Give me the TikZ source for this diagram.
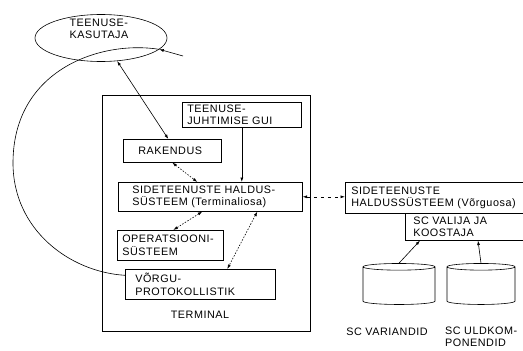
\documentclass[tikz,border=0pt]{standalone}
\usepackage{fontspec}
\setmainfont{Liberation Sans}[LetterSpace=5]
\usetikzlibrary{arrows.meta,shapes.geometric}

\begin{document}
\begin{tikzpicture}[x=1pt,y=-1pt,line width=0.6pt,
  font=\fontsize{10.8pt}{12.5pt}\selectfont,
  >={Latex[length=4.5pt,width=3pt]},
  box/.style={draw,anchor=north west,align=left,inner ysep=0pt},
  dots/.style={<->,dash pattern=on 1.5pt off 1.5pt},
  db/.style={draw,cylinder,shape border rotate=90,aspect=1,minimum width=72pt,minimum height=41pt}]
  \useasboundingbox (0,0) rectangle (523,351);
  % Kasutaja
  \node[draw,ellipse,minimum width=132pt,minimum height=47pt] (kasutaja) at (101,38) {};
  \node[align=left] (kasutajatekst) at (99,29) {TEENUSE-\\KASUTAJA};
  % Terminal
  \node[box,minimum width=208pt,minimum height=236pt] (terminal) at (102,95) {};
  \node (terminaltekst) at (200,315) {TERMINAL};
  \node[box,text width=109pt,inner xsep=5pt,minimum height=25pt] (gui) at (182,102) {TEENUSE-\\JUHTIMISE GUI};
  \node[box,text width=68pt,inner xsep=15pt,minimum height=23pt] (rakendus) at (123,139) {RAKENDUS};
  \node[box,text width=156pt,inner xsep=14pt,minimum height=29pt] (haldus) at (118,182) {SIDETEENUSTE HALDUS-\\SÜSTEEM (Terminaliosa)};
  \node[box,text width=96pt,inner xsep=5pt,minimum height=30pt] (os) at (117,230) {OPERATSIOONI-\\SÜSTEEM};
  \node[box,text width=130pt,inner xsep=10pt,minimum height=30pt] (vorgu) at (125,269) {VÕRGU-\\PROTOKOLLISTIK};
  % Vork
  \node[box,text width=166pt,inner xsep=6pt,minimum height=31pt] (haldusv) at (345,182) {SIDETEENUSTE\\HALDUSSÜSTEEM (Võrguosa)};
  \node[box,text width=102pt,inner xsep=8pt,minimum height=27pt] (valija) at (405,213) {SC VALIJA JA\\KOOSTAJA};
  \node[db] (variandid) at (399,286.5) {};
  \node[db,minimum width=68pt] (uldkomp) at (481,286.5) {};
  \node (variantekst) at (387,332) {SC VARIANDID};
  \node[anchor=north west,align=left,inner ysep=0pt,font=\fontsize{10.8pt}{11.5pt}\selectfont] (uldtekst) at (441.5,327) {SC ULDKOM-\\PONENDID};
  % Seosed
  \draw[<->] (kasutaja.-55) -- ([xshift=-4pt]rakendus.north);
  \draw[->] (gui.south) -- (gui.south |- haldus.north);
  \draw[dots] (rakendus.south) -- ([xshift=-13pt]haldus.north);
  \draw[dots] ([xshift=-8pt]haldus.south) -- ([xshift=3pt]os.north);
  \draw[dots] ([xshift=47pt]haldus.south) -- ([xshift=27pt]vorgu.north);
  \draw[<->,dash pattern=on 3pt off 4pt] (haldus.east) -- (haldus.east -| haldusv.west);
  \draw[->] (variandid.north) -- ([xshift=15pt]valija.south west);
  \draw[->] (uldkomp.north) -- ([xshift=73pt]valija.south west);
  % Silmus
  \coordinate (silmus) at (183,56);
  \draw[->] (silmus) -- (kasutaja.-11);
  \draw (kasutaja.-11) .. controls (100,40) and (13,70) .. (13,163)
    .. controls (13,230) and (70,272) .. ([yshift=9pt]vorgu.west);
\end{tikzpicture}
\end{document}
